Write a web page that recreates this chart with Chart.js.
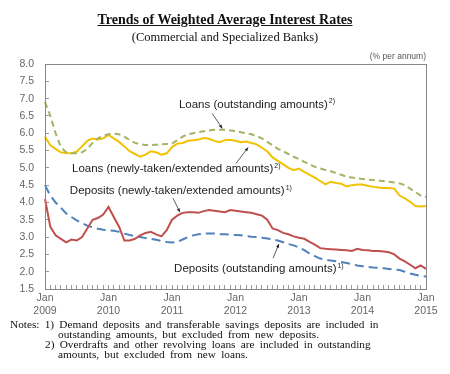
<!DOCTYPE html>
<html>
<head>
<meta charset="utf-8">
<script src="https://cdn.jsdelivr.net/npm/chart.js@4"></script>
<style>
  body { margin: 0; background: #fff; }
  #wrap { position: relative; width: 450px; height: 374px; overflow: hidden; }
  #myChart { position: absolute; left: 0; top: 0; }
  .txt { position: absolute; white-space: nowrap; color: #111; font-family: "Liberation Serif", "DejaVu Serif", serif; }
  #title { left: 0; width: 450px; top: 12px; text-align: center; font-weight: bold; font-size: 14px; text-decoration: underline; }
  #subtitle { left: 0; width: 450px; top: 30px; text-align: center; font-size: 12.5px; }
  #unit { right: 24px; top: 51px; font-family: "Liberation Sans", sans-serif; font-size: 8.5px; color: #555; }
  .note { font-size: 11.3px; line-height: 10px; word-spacing: 2.4px; }
</style>
</head>
<body>
<div id="wrap">
  <canvas id="myChart" width="450" height="374"></canvas>
  <div class="txt" id="title">Trends of Weighted Average Interest Rates</div>
  <div class="txt" id="subtitle">(Commercial and Specialized Banks)</div>
  <div class="txt" id="unit">(% per annum)</div>
  <div class="txt note" style="left:10px; top:319px;">Notes: 1) Demand deposits and transferable savings deposits are included in</div>
  <div class="txt note" style="left:58px; top:329px;">outstanding amounts, but excluded from new deposits.</div>
  <div class="txt note" style="left:45px; top:339px;">2) Overdrafts and other revolving loans are included in outstanding</div>
  <div class="txt note" style="left:58px; top:349px;">amounts, but excluded from new loans.</div>
</div>
<script>
// --- DATA (monthly, Jan 2009 - Jan 2015) ---
const years = ['2009', '2010', '2011', '2012', '2013', '2014', '2015'];
const yTicks = [1.5, 2.0, 2.5, 3.0, 3.5, 4.0, 4.5, 5.0, 5.5, 6.0, 6.5, 7.0, 7.5, 8.0];

// month labels for the category axis
const months = [];
years.forEach((y, i) => {
    const n = (i === years.length - 1) ? 1 : 12;
    for (let m = 1; m <= n; m++) months.push(y + '-' + String(m).padStart(2, '0'));
});

const loansOutstanding = [
    6.9, 6.5, 6.0, 5.6, 5.45, 5.42, 5.42, 5.45, 5.55, 5.72,
    5.85, 5.93, 5.97, 5.99, 5.97, 5.9, 5.8, 5.72, 5.68, 5.66,
    5.66, 5.67, 5.68, 5.69, 5.7, 5.8, 5.9, 5.97, 6.0, 6.03,
    6.06, 6.08, 6.1, 6.1, 6.1, 6.08, 6.06, 6.03, 6.0, 5.97,
    5.92, 5.85, 5.75, 5.65, 5.55, 5.48, 5.4, 5.32, 5.25, 5.17,
    5.1, 5.03, 4.98, 4.94, 4.9, 4.85, 4.8, 4.74, 4.72, 4.7,
    4.68, 4.66, 4.65, 4.63, 4.62, 4.6, 4.58, 4.55, 4.5, 4.4,
    4.3, 4.2, 4.15
];
const loansNew = [
    5.9, 5.65, 5.55, 5.45, 5.43, 5.42, 5.47, 5.62, 5.78, 5.85,
    5.82, 5.85, 5.95, 5.85, 5.75, 5.62, 5.48, 5.4, 5.32, 5.38,
    5.48, 5.45, 5.38, 5.42, 5.6, 5.7, 5.72, 5.78, 5.8, 5.82,
    5.86, 5.84, 5.78, 5.74, 5.8, 5.81, 5.78, 5.74, 5.76, 5.72,
    5.68, 5.58, 5.48, 5.3, 5.2, 5.1, 5.0, 4.93, 4.98, 4.88,
    4.8, 4.72, 4.62, 4.52, 4.6, 4.56, 4.54, 4.46, 4.5, 4.52,
    4.52, 4.48, 4.45, 4.43, 4.42, 4.42, 4.4, 4.2, 4.12, 4.02,
    3.9, 3.88, 3.9
];
const depositsNew = [
    4.1, 3.3, 3.05, 2.95, 2.85, 2.93, 2.9, 3.0, 3.25, 3.5,
    3.55, 3.65, 3.87, 3.58, 3.3, 2.9, 2.9, 2.95, 3.05, 3.12,
    3.15, 3.08, 3.02, 3.2, 3.5, 3.62, 3.7, 3.72, 3.72, 3.7,
    3.75, 3.78, 3.76, 3.74, 3.72, 3.78, 3.76, 3.74, 3.72, 3.7,
    3.66, 3.62, 3.5, 3.25, 3.2, 3.12, 3.08, 3.02, 2.98, 2.95,
    2.86, 2.78, 2.68, 2.66, 2.65, 2.64, 2.63, 2.62, 2.6, 2.66,
    2.63, 2.62, 2.6, 2.6, 2.58, 2.56, 2.5, 2.38, 2.3, 2.2,
    2.1, 2.18, 2.08
];
const depositsOutstanding = [
    4.5, 4.2, 4.0, 3.85, 3.68, 3.58, 3.48, 3.4, 3.33, 3.28,
    3.24, 3.21, 3.2, 3.18, 3.15, 3.1, 3.06, 3.03, 3.0, 2.97,
    2.95, 2.92, 2.89, 2.86, 2.84, 2.86, 2.93, 3.0, 3.05, 3.08,
    3.1, 3.1, 3.1, 3.08, 3.08, 3.07, 3.06, 3.05, 3.03, 3.01,
    3.0, 2.98, 2.96, 2.93, 2.9, 2.85, 2.8, 2.76, 2.7, 2.62,
    2.52, 2.45, 2.38, 2.35, 2.32, 2.3, 2.28, 2.25, 2.22, 2.18,
    2.16, 2.14, 2.12, 2.11, 2.1, 2.08, 2.06, 2.05, 2.0, 1.95,
    1.91, 1.88, 1.86
];

// --- LABELS INSIDE THE PLOT (month index, value) ---
const callouts = [
    { text: 'Loans (outstanding amounts)', sup: '2)', at: [25.3, 6.83], from: [31.6, 6.57], to: [33.5, 6.14] },
    { text: 'Loans (newly-taken/extended amounts)', sup: '2)', at: [5.1, 4.97], from: [36.1, 5.13], to: [38.4, 5.59] },
    { text: 'Deposits (newly-taken/extended amounts)', sup: '1)', at: [4.7, 4.33], from: [24.2, 4.12], to: [25.5, 3.72] },
    { text: 'Deposits (outstanding amounts)', sup: '1)', at: [24.4, 2.08], from: [43.1, 2.39], to: [44.2, 2.8] }
];

// --- PLUGINS ---
const frame = {
    id: 'frame',
    afterDraw(chart) {
        const a = chart.chartArea, c = chart.ctx;
        c.save();
        c.strokeStyle = '#888';
        c.lineWidth = 1;
        c.strokeRect(Math.round(a.left) + 0.5, Math.round(a.top) + 0.5, Math.round(a.right - a.left), Math.round(a.bottom - a.top));
        c.restore();
    }
};

const calloutLabels = {
    id: 'calloutLabels',
    afterDatasetsDraw(chart) {
        const c = chart.ctx, xs = chart.scales.x, ys = chart.scales.y;
        const px = p => [xs.getPixelForValue(p[0]), ys.getPixelForValue(p[1])];
        c.save();
        callouts.forEach(o => {
            const [x, y] = px(o.at);
            c.fillStyle = '#222';
            c.font = '11.5px "Liberation Sans", Arial, sans-serif';
            c.textBaseline = 'middle';
            c.fillText(o.text, x, y);
            const w = c.measureText(o.text).width;
            c.font = '7px "Liberation Sans", Arial, sans-serif';
            c.fillText(o.sup, x + w + 1, y - 3);

            // arrow
            const [x1, y1] = px(o.from), [x2, y2] = px(o.to);
            c.strokeStyle = '#333';
            c.lineWidth = 0.8;
            c.beginPath();
            c.moveTo(x1, y1);
            c.lineTo(x2, y2);
            c.stroke();
            const ang = Math.atan2(y2 - y1, x2 - x1);
            c.fillStyle = '#222';
            c.beginPath();
            c.moveTo(x2, y2);
            c.lineTo(x2 - 4 * Math.cos(ang - 0.4), y2 - 4 * Math.sin(ang - 0.4));
            c.lineTo(x2 - 4 * Math.cos(ang + 0.4), y2 - 4 * Math.sin(ang + 0.4));
            c.closePath();
            c.fill();
        });
        c.restore();
    }
};

// --- CHART ---
const axisFont = { family: '"Liberation Sans", Arial, sans-serif', size: 10.5 };
const ctx = document.getElementById('myChart').getContext('2d');
const myChart = new Chart(ctx, {
    type: 'line',
    data: {
        labels: months,
        datasets: [
            { label: 'Loans (outstanding amounts)', data: loansOutstanding, borderColor: '#a3b565', borderDash: [6, 4] },
            { label: 'Loans (newly-taken/extended amounts)', data: loansNew, borderColor: '#f2c200' },
            { label: 'Deposits (newly-taken/extended amounts)', data: depositsNew, borderColor: '#c0504d' },
            { label: 'Deposits (outstanding amounts)', data: depositsOutstanding, borderColor: '#4f81bd', borderDash: [9, 5] }
        ]
    },
    options: {
        responsive: false,
        animation: false,
        layout: { padding: { top: 64, right: 24, left: 0, bottom: 0 } },
        elements: {
            point: { radius: 0 },
            line: { borderWidth: 2, tension: 0, fill: false }
        },
        plugins: {
            legend: { display: false },
            tooltip: { enabled: false }
        },
        scales: {
            x: {
                ticks: {
                    autoSkip: false,
                    maxRotation: 0,
                    padding: 7,
                    color: '#666',
                    font: axisFont,
                    callback: (v, i) => i % 12 === 0 ? ['Jan', years[i / 12]] : ''
                },
                grid: { drawOnChartArea: false, tickLength: -4, color: '#999' },
                border: { color: '#888' },
                afterFit: s => { s.height = 85; }
            },
            y: {
                min: 1.5,
                max: 8,
                afterBuildTicks: s => { s.ticks = yTicks.map(v => ({ value: v })); },
                ticks: {
                    padding: 15,
                    color: '#666',
                    font: axisFont,
                    callback: v => v.toFixed(1)
                },
                grid: { drawOnChartArea: false, tickLength: -4, color: '#999' },
                border: { color: '#888' },
                afterFit: s => { s.width = 45; }
            }
        }
    },
    plugins: [frame, calloutLabels]
});
</script>
</body>
</html>
